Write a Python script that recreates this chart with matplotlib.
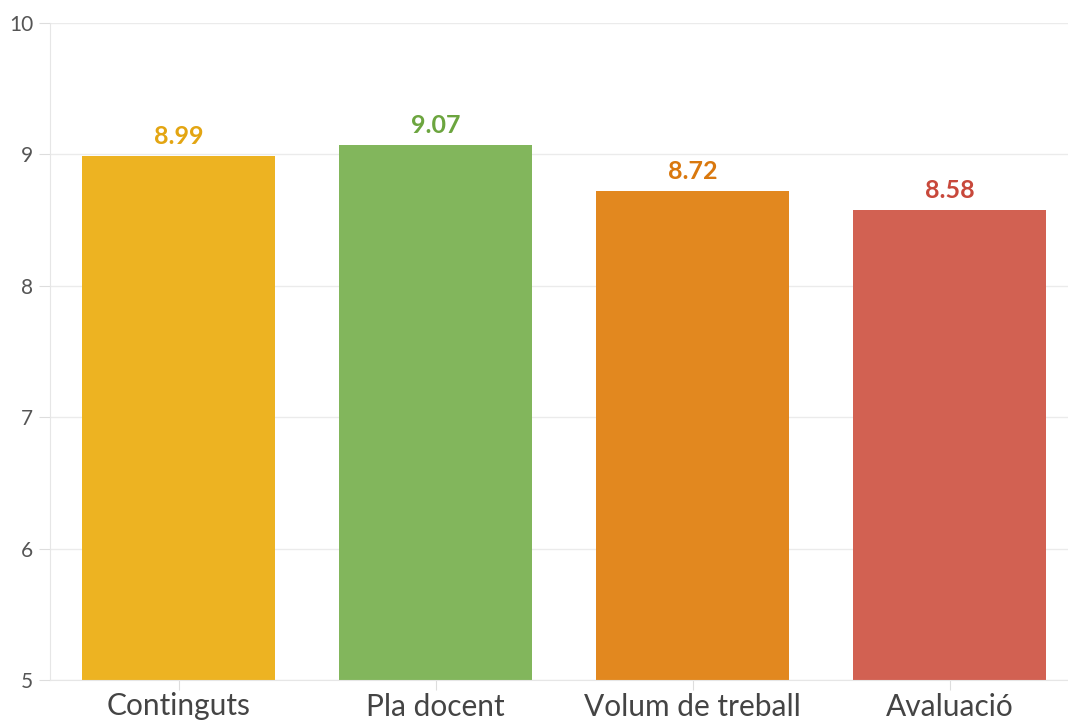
import matplotlib.pyplot as plt

categories = ["Continguts", "Pla docent", "Volum de treball", "Avaluació"]
values = [8.99, 9.07, 8.72, 8.58]
bar_colors = ["#EDB322", "#82B65C", "#E2881F", "#D26152"]
label_colors = ["#E3A512", "#6CA53F", "#D9780E", "#C8483B"]
yticks = [5, 6, 7, 8, 9, 10]

plt.rcParams['font.family'] = ['Lato', 'DejaVu Sans']

fig = plt.figure(figsize=(10.68, 7.24), dpi=100)
ax = fig.add_axes([50 / 1068, 44 / 724, 1018 / 1068, 657 / 724])

x = list(range(len(categories)))
ax.bar(x, values, width=0.75, color=bar_colors, zorder=2)
for xi, v, c in zip(x, values, label_colors):
    ax.text(xi, v + 0.06, f"{v:.2f}", ha="center", va="bottom",
            fontsize=18, fontweight="bold", color=c)

ax.set_ylim(5, 10)
ax.set_xlim(-0.5, 3.46)
ax.set_yticks(yticks)
ax.set_yticklabels([str(t) for t in yticks], fontsize=15, color="#555555")
ax.set_xticks(x)
ax.set_xticklabels(categories, fontsize=21.5, color="#444444")
ax.yaxis.grid(True, color="#ebebeb", linewidth=1, zorder=0)
ax.tick_params(axis="y", length=8, color="#dddddd", pad=4)
ax.tick_params(axis="x", length=7, color="#dddddd", pad=2)
for s in ["top", "right"]:
    ax.spines[s].set_visible(False)
ax.spines["left"].set_color("#e6e6e6")
ax.spines["bottom"].set_color("#e6e6e6")

fig.savefig("out.png", dpi=100)
plt.close(fig)
